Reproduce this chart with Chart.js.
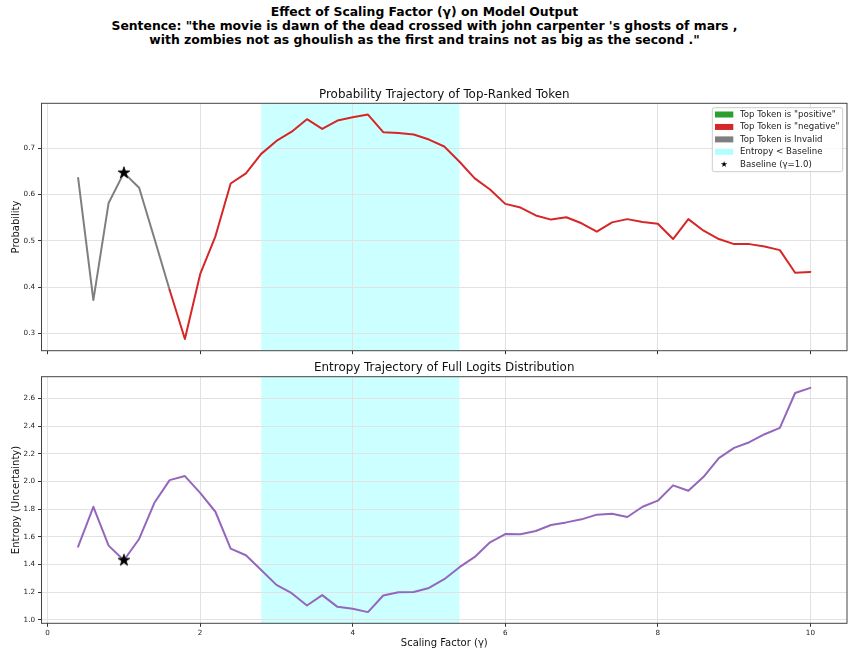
<!DOCTYPE html>
<html>
<head>
<meta charset="utf-8">
<script src="https://cdn.jsdelivr.net/npm/chart.js@4/dist/chart.umd.min.js"></script>
<style>
  html, body { margin: 0; padding: 0; background: #fff; width: 849px; height: 651px; overflow: hidden; }
  #sup { position: absolute; left: 0; top: 5px; width: 849px; text-align: center;
         font-family: 'DejaVu Sans', sans-serif; font-weight: bold; font-size: 12.4px; line-height: 14px; color: #000; }
  canvas { position: absolute; left: 0; }
</style>
</head>
<body>
<div id="sup">Effect of Scaling Factor (γ) on Model Output<br>Sentence: "the movie is dawn of the dead crossed with john carpenter 's ghosts of mars ,<br>with zombies not as ghoulish as the first and trains not as big as the second ."</div>
<canvas id="c1" width="849" height="300" style="top:60px"></canvas>
<canvas id="c2" width="849" height="291" style="top:360px"></canvas>
<script>
// ---------------- data ----------------
const gammas = [0.4,0.6,0.8,1.0,1.2,1.4,1.6,1.8,2.0,2.2,2.4,2.6,2.8,3.0,3.2,3.4,3.6,3.8,4.0,4.2,4.4,4.6,4.8,5.0,5.2,5.4,5.6,5.8,6.0,6.2,6.4,6.6,6.8,7.0,7.2,7.4,7.6,7.8,8.0,8.2,8.4,8.6,8.8,9.0,9.2,9.4,9.6,9.8,10.0];
const topProb = [0.636,0.372,0.582,0.647,0.615,0.505,
                 0.394,0.288,0.428,0.510,0.624,0.646,
                 0.688,0.716,0.736,0.763,0.742,0.760,
                 0.767,0.773,0.735,0.733,0.730,0.719,
                 0.704,0.671,0.635,0.611,0.580,0.572,
                 0.555,0.546,0.551,0.538,0.520,0.540,
                 0.547,0.541,0.537,0.504,0.547,0.522,
                 0.504,0.493,0.493,0.488,0.480,0.431,
                 0.433];
const entropy = [1.528,1.817,1.536,1.430,1.584,1.846,
                 2.010,2.039,1.918,1.781,1.514,1.466,
                 1.360,1.252,1.192,1.103,1.178,1.093,
                 1.079,1.055,1.175,1.199,1.201,1.230,
                 1.293,1.380,1.454,1.560,1.620,1.618,
                 1.642,1.685,1.704,1.726,1.760,1.767,
                 1.743,1.817,1.861,1.972,1.933,2.034,
                 2.169,2.243,2.284,2.342,2.388,2.640,
                 2.677];
const tokenClass = ['invalid','invalid','invalid','invalid','invalid','invalid',
                    'negative','negative','negative','negative','negative','negative',
                    'negative','negative','negative','negative','negative','negative',
                    'negative','negative','negative','negative','negative','negative',
                    'negative','negative','negative','negative','negative','negative',
                    'negative','negative','negative','negative','negative','negative',
                    'negative','negative','negative','negative','negative','negative',
                    'negative','negative','negative','negative','negative','negative',
                    'negative'];
const baselineGamma = 1.0;
const xTicks = [0, 2, 4, 6, 8, 10];
const probTicks = [0.3, 0.4, 0.5, 0.6, 0.7];
const entropyTicks = [1.0, 1.2, 1.4, 1.6, 1.8, 2.0, 2.2, 2.4, 2.6];
const legendLabels = ['Top Token is "positive"', 'Top Token is "negative"', 'Top Token is Invalid', 'Entropy < Baseline', 'Baseline (γ=1.0)'];
const titles = {
  prob: 'Probability Trajectory of Top-Ranked Token',
  ent: 'Entropy Trajectory of Full Logits Distribution'
};

// ---------------- styles ----------------
const classColors = { positive: '#2ca02c', negative: '#d62728', invalid: '#7f7f7f' };
const entropyColor = '#9467bd';
const spanColor = 'rgba(0,255,255,0.2)';
const legendSpanColor = 'rgba(0,255,255,0.3)';
const FONT = "'DejaVu Sans', sans-serif";

const baseIdx = gammas.indexOf(baselineGamma);
const baseEnt = entropy[baseIdx];
// entropy-below-baseline region (first and last points below baseline)
const belowIdx = entropy.map((e, i) => e < baseEnt ? i : -1).filter(i => i >= 0 && i > baseIdx);
const spanStart = gammas[belowIdx[0]];
const spanEnd = gammas[belowIdx[belowIdx.length - 1]];

function makeStar(R, lw) {
  const s = Math.ceil(2 * R + 2 * lw + 2);
  const c = document.createElement('canvas');
  c.width = c.height = s;
  const g = c.getContext('2d');
  const cx = s / 2, cy = s / 2, r = R * 0.381966;
  g.beginPath();
  for (let k = 0; k < 10; k++) {
    const ang = -Math.PI / 2 + k * Math.PI / 5;
    const rr = (k % 2) ? r : R;
    g.lineTo(cx + rr * Math.cos(ang), cy + rr * Math.sin(ang));
  }
  g.closePath();
  g.fillStyle = '#000'; g.fill();
  g.lineWidth = lw; g.strokeStyle = '#000'; g.lineJoin = 'miter'; g.stroke();
  return c;
}
const starImg = makeStar(6.2, 0.8);

function starPath(ctx, cx, cy, R) {
  const r = R * 0.381966;
  ctx.beginPath();
  for (let k = 0; k < 10; k++) {
    const ang = -Math.PI / 2 + k * Math.PI / 5;
    const rr = (k % 2) ? r : R;
    ctx.lineTo(cx + rr * Math.cos(ang), cy + rr * Math.sin(ang));
  }
  ctx.closePath();
}

const decor = {
  id: 'decor',
  beforeDraw(chart, args, opts) {
    const { ctx, chartArea: a } = chart;
    const xs = chart.scales.x;
    const x0 = xs.getPixelForValue(spanStart), x1 = xs.getPixelForValue(spanEnd);
    ctx.save();
    ctx.fillStyle = spanColor;
    ctx.fillRect(x0, a.top, x1 - x0, a.bottom - a.top);
    ctx.restore();
  },
  afterDraw(chart, args, opts) {
    const { ctx, chartArea: a } = chart;
    ctx.save();
    // frame
    ctx.strokeStyle = '#444';
    ctx.lineWidth = 1;
    ctx.strokeRect(a.left, a.top, a.right - a.left, a.bottom - a.top);
    // title
    ctx.fillStyle = '#111';
    ctx.font = '11.9px ' + FONT;
    ctx.textAlign = 'center';
    ctx.textBaseline = 'middle';
    ctx.fillText(opts.title, (a.left + a.right) / 2, a.top - 8.5);
    // legend
    if (opts.legend) {
      const bw = 130.4, bh = 64;
      const bx = a.right - 4.3 - bw, by = a.top + 4.4;
      ctx.fillStyle = 'rgba(255,255,255,0.8)';
      ctx.strokeStyle = '#cccccc';
      ctx.lineWidth = 1;
      ctx.beginPath();
      if (ctx.roundRect) ctx.roundRect(bx, by, bw, bh, 2); else ctx.rect(bx, by, bw, bh);
      ctx.fill(); ctx.stroke();
      const patchColors = [classColors.positive, classColors.negative, classColors.invalid, legendSpanColor];
      ctx.font = '8.6px ' + FONT;
      ctx.textAlign = 'left';
      ctx.textBaseline = 'middle';
      for (let i = 0; i < legendLabels.length; i++) {
        const cy = by + 6.8 + i * 12.45;
        if (i < 4) {
          ctx.fillStyle = patchColors[i];
          ctx.fillRect(bx + 2.7, cy - 3, 18.3, 6);
        } else {
          ctx.fillStyle = '#000';
          starPath(ctx, bx + 11.8, cy, 3.4);
          ctx.fill();
        }
        ctx.fillStyle = '#222';
        ctx.fillText(legendLabels[i], bx + 27.7, cy + 0.3);
      }
    }
    ctx.restore();
  }
};

const gridCommon = { color: '#e2e2e2', lineWidth: 1, tickColor: '#333', tickLength: 3.5, tickWidth: 1 };
const tickFont = { family: FONT, size: 7.2 };

function xScale(showLabels, fitHeight) {
  return {
    type: 'linear', min: -0.08, max: 10.48,
    afterBuildTicks: s => { s.ticks = xTicks.map(v => ({ value: v })); },
    afterFit: s => { s.height = fitHeight; s.paddingLeft = 0; s.paddingRight = 0; },
    ticks: { color: showLabels ? '#222' : 'rgba(0,0,0,0)', font: tickFont, padding: 2, maxRotation: 0, autoSkip: false,
             callback: v => String(v) },
    grid: gridCommon,
    border: { display: false },
    title: showLabels ? { display: true, text: 'Scaling Factor (γ)', font: { family: FONT, size: 10 }, color: '#111', padding: { top: 0, bottom: 1.5 } } : { display: false }
  };
}
function yScale(min, max, ticks, label) {
  return {
    type: 'linear', min, max,
    afterBuildTicks: s => { s.ticks = ticks.map(v => ({ value: v })); },
    afterFit: s => { s.width = 41.5; s.paddingTop = 0; s.paddingBottom = 0; },
    ticks: { color: '#222', font: tickFont, padding: 3, autoSkip: false, callback: v => Number(v).toFixed(1) },
    grid: gridCommon,
    border: { display: false },
    title: { display: true, text: label, font: { family: FONT, size: 10 }, color: '#111', padding: { top: 10.7, bottom: 0 } }
  };
}

const common = {
  responsive: false, animation: false, devicePixelRatio: 1,
  events: [],
};

new Chart(document.getElementById('c1'), {
  type: 'line',
  data: {
    datasets: [
      {
        data: gammas.map((g, i) => ({ x: g, y: topProb[i] })),
        borderColor: classColors.negative,
        segment: { borderColor: c => classColors[tokenClass[c.p0DataIndex]] },
        borderWidth: 2, pointRadius: 0, tension: 0, borderJoinStyle: 'round', borderCapStyle: 'round',
        order: 2
      },
      {
        type: 'scatter',
        data: [{ x: baselineGamma, y: topProb[baseIdx] }],
        pointStyle: starImg, pointRadius: 6, showLine: false, order: 1
      }
    ]
  },
  options: Object.assign({}, common, {
    layout: { autoPadding: false, padding: { top: 43.3, left: 0, right: 2, bottom: 0 } },
    plugins: { legend: { display: false }, tooltip: { enabled: false }, decor: { title: titles.prob, legend: true } },
    scales: { x: xScale(false, 9.3), y: yScale(0.2627, 0.7973, probTicks, 'Probability') }
  }),
  plugins: [decor]
});

new Chart(document.getElementById('c2'), {
  type: 'line',
  data: {
    datasets: [
      {
        data: gammas.map((g, i) => ({ x: g, y: entropy[i] })),
        borderColor: entropyColor,
        borderWidth: 2, pointRadius: 0, tension: 0, borderJoinStyle: 'round', borderCapStyle: 'round',
        order: 2
      },
      {
        type: 'scatter',
        data: [{ x: baselineGamma, y: baseEnt }],
        pointStyle: starImg, pointRadius: 6, showLine: false, order: 1
      }
    ]
  },
  options: Object.assign({}, common, {
    layout: { autoPadding: false, padding: { top: 16.7, left: 0, right: 2, bottom: 0 } },
    plugins: { legend: { display: false }, tooltip: { enabled: false }, decor: { title: titles.ent, legend: false } },
    scales: { x: xScale(true, 27.7), y: yScale(0.974, 2.758, entropyTicks, 'Entropy (Uncertainty)') }
  }),
  plugins: [decor]
});
</script>
</body>
</html>
